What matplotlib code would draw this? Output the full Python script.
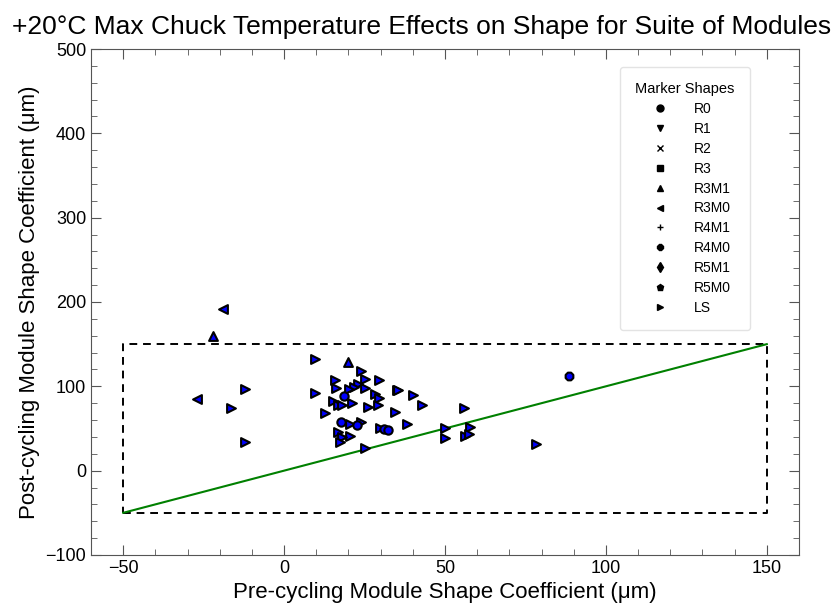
import matplotlib.pyplot as plt
from matplotlib.lines import Line2D

plt.rcParams['font.family'] = ['Liberation Sans', 'DejaVu Sans']

# Datenpunkte (vor / nach dem Zyklieren)
ls_x = [9.6, 9.6, 23.9, 15.9, 25.0, 29.6, 22.9, 21.6, 20.3, 16.2, 25.0, 35.0,
        28.1, 29.4, 15.1, 16.9, 18.1, 21.2, 26.2, 29.3, 34.5, 12.8, 20.5, 23.9,
        16.7, 29.9, 20.5, 18.1, 17.4, 25.2, -12.1, -16.5, -12.0, 35.4, 40.2,
        42.9, 38.2, 55.8, 50.1, 50.1, 57.9, 56.3, 57.6, 78.4]
ls_y = [132.4, 91.7, 118.2, 107.5, 108.3, 107.5, 102.4, 99.6, 96.5, 97.6, 97.6, 95.7,
        90.5, 85.8, 82.6, 77.9, 77.9, 79.9, 75.1, 77.9, 70.0, 68.0, 55.3, 58.0,
        46.2, 50.2, 41.5, 40.3, 33.6, 27.0, 96.8, 74.3, 34.0, 95.3, 89.4,
        78.2, 55.0, 74.3, 50.2, 38.4, 51.4, 41.0, 43.0, 31.3]
r0_x = [18.7, 17.6, 22.6, 30.9, 32.4]
r0_y = [88.5, 58.0, 54.2, 49.4, 48.2]
r3m1_x = [-22.0, 19.8]
r3m1_y = [160.0, 128.5]
r3m0_x = [-19.1, -27.0]
r3m0_y = [191.7, 84.6]
r4m0_x = [88.6]
r4m0_y = [112.3]

legende_namen = ['R0', 'R1', 'R2', 'R3', 'R3M1', 'R3M0', 'R4M1', 'R4M0', 'R5M1', 'R5M0', 'LS']
legende_marker = ['o', 'v', 'x', 's', '^', '<', '+', '8', 'd', 'p', '>']

fig = plt.figure(figsize=(8.36, 6.11), dpi=100)
ax = fig.add_axes([0.1089, 0.0917, 0.8468, 0.8281])

# Rahmen und Diagonale
ax.plot([-50, 150, 150, -50, -50], [-50, -50, 150, 150, -50], color='black',
        linestyle='--', linewidth=1.4, dashes=(4, 3), zorder=1)
ax.plot([-50, 150], [-50, 150], color='green', linewidth=1.5, zorder=2)

stil = dict(facecolor='blue', edgecolor='black', linewidths=1.5, zorder=3)
ax.scatter(ls_x, ls_y, marker='>', s=40, **stil)
ax.scatter(r0_x, r0_y, marker='o', s=36, **stil)
ax.scatter(r3m1_x, r3m1_y, marker='^', s=40, **stil)
ax.scatter(r3m0_x, r3m0_y, marker='<', s=40, **stil)
ax.scatter(r4m0_x, r4m0_y, marker='8', s=36, **stil)

ax.set_xlim(-60, 160)
ax.set_ylim(-100, 500)
ax.set_xticks([-50, 0, 50, 100, 150])
ax.set_xticks(range(-60, 161, 10), minor=True)
ax.set_yticks(range(-100, 501, 100))
ax.set_yticks(range(-100, 501, 20), minor=True)
ax.tick_params(which='both', direction='in', top=True, right=True, color='#555555')
ax.tick_params(which='major', length=7, labelsize=13)
ax.tick_params(which='minor', length=4)
for sp in ax.spines.values():
    sp.set_color('#555555')

ax.set_xlabel('Pre-cycling Module Shape Coefficient (μm)', fontsize=16)
ax.set_ylabel('Post-cycling Module Shape Coefficient (μm)', fontsize=16)
fig.text(0.504, 0.955, '+20°C Max Chuck Temperature Effects on Shape for Suite of Modules',
         fontsize=19, ha='center', va='center')

griffe = [Line2D([], [], linestyle='none', marker=m, color='black', markersize=5)
          for m in legende_marker]
leg = ax.legend(griffe, legende_namen, title='Marker Shapes', loc='upper right',
                bbox_to_anchor=(0.931, 0.964), borderaxespad=0, fontsize=10,
                title_fontsize=10.5, frameon=True, handletextpad=0.9, handlelength=3.0,
                labelspacing=0.42, borderpad=1.1)
leg.get_frame().set_edgecolor('#dddddd')

plt.savefig('out.png', dpi=100)
